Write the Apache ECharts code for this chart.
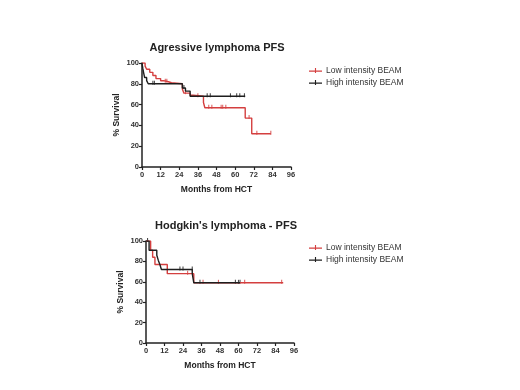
<!DOCTYPE html>
<html>
<head>
<meta charset="utf-8">
<script src="https://cdn.jsdelivr.net/npm/echarts@6/dist/echarts.min.js"></script>
<style>
  html, body { margin: 0; padding: 0; background: #fff; }
  #main { width: 520px; height: 390px; }
</style>
</head>
<body>
<div id="main"></div>
<script>
// 曲线数据 [月份, 生存率]
var aggLow = [[0,100],[2,97],[3,94],[5,91],[7,88],[9,85],[12,83],[14,82],[17,81],[19,80],[26,75],[27,71],[31,69],[33,68],[39.6,62],[40.5,57],[66.5,47],[70.7,32],[83,32]];
var aggHigh = [[0,100],[0.5,95],[1,91],[1.7,86],[3,83],[4,80],[26,76],[28,73],[31,68],[66.5,68]];
var aggLowCens = [[15,82],[16,82],[28,71],[36,68],[43,57],[45,57],[51,57],[52,57],[54,57],[69,47],[74,32],[83,32]];
var aggHighCens = [[7,80],[8,80],[27,76],[42,68],[44,68],[57,68],[61,68],[63,68],[66,68]];

var hodLow = [[0,100],[3,91],[4.3,84],[5.8,77],[13.8,68],[31,59],[89,59]];
var hodHigh = [[0,100],[2,91],[7,86],[8,81],[9,77],[10,72],[30,68],[31,59],[61,59]];
var hodLowCens = [[27,68],[37,59],[47,59],[64,59],[88,59]];
var hodHighCens = [[1,100],[22,72],[24,72],[30,72],[35,59],[58,59],[60,59],[61,59]];

var titles = ['Agressive lymphoma PFS', "Hodgkin's lymphoma - PFS"];
var names = ['Low intensity BEAM', 'High intensity BEAM'];
var RED = '#d43f3f', BLACK = '#1e1e1e';
var FONT = '"Liberation Sans", Arial, sans-serif';

var chart = echarts.init(document.getElementById('main'));

function xAxis(i) {
    return {
        gridIndex: i, type: 'value', min: 0, max: 96, interval: 12,
        name: 'Months from HCT', nameLocation: 'middle', nameGap: 18,
        nameTextStyle: { fontFamily: FONT, fontSize: 8.5, fontWeight: 'bold', color: '#222' },
        axisLine: { lineStyle: { color: '#222', width: 1.5 } },
        axisTick: { show: true, length: 3, lineStyle: { color: '#222', width: 1.2 } },
        axisLabel: { fontFamily: FONT, fontSize: 7.5, fontWeight: 'bold', color: '#333', margin: 4 },
        splitLine: { show: false }
    };
}
function yAxis(i) {
    return {
        gridIndex: i, type: 'value', min: 0, max: 100, interval: 20,
        name: '% Survival', nameLocation: 'middle', nameGap: 21,
        nameTextStyle: { fontFamily: FONT, fontSize: 8.5, fontWeight: 'bold', color: '#222' },
        axisLine: { show: true, lineStyle: { color: '#222', width: 1.5 } },
        axisTick: { show: true, length: 3, lineStyle: { color: '#222', width: 1.2 } },
        axisLabel: { fontFamily: FONT, fontSize: 7.5, fontWeight: 'bold', color: '#333', margin: 3 },
        splitLine: { show: false }
    };
}
function stepLine(name, data, color, i) {
    return {
        name: name, type: 'line', step: 'end', data: data,
        xAxisIndex: i, yAxisIndex: i, symbol: 'none',
        lineStyle: { color: color, width: 1.4 }, itemStyle: { color: color },
        animation: false
    };
}
function censor(data, color, i) {
    return {
        type: 'scatter', data: data, xAxisIndex: i, yAxisIndex: i,
        symbol: 'rect', symbolSize: [1.1, 4], symbolOffset: [0, -1],
        itemStyle: { color: color }, animation: false, silent: true
    };
}
var legendIcon = 'path://M0,4.3h14v1.4H0z M6.4,1.5h1.2v5.5H6.4z';
function legend(top) {
    return {
        data: names, left: 304, top: top, orient: 'vertical',
        itemWidth: 13, itemHeight: 7, itemGap: 3, icon: legendIcon,
        textStyle: { fontFamily: FONT, fontSize: 8.5, color: '#333', padding: [0, 0, 0, -1] }
    };
}

var option = {
    backgroundColor: '#fff',
    color: [RED, BLACK],
    title: [
        { text: titles[0], left: 212, top: 37, textAlign: 'center',
          textStyle: { fontFamily: FONT, fontSize: 11, fontWeight: 'bold', color: '#222' } },
        { text: titles[1], left: 221, top: 215, textAlign: 'center',
          textStyle: { fontFamily: FONT, fontSize: 11, fontWeight: 'bold', color: '#222' } }
    ],
    legend: [legend(61), legend(238)],
    grid: [
        { left: 142, top: 63, width: 149, height: 104 },
        { left: 146, top: 241, width: 148, height: 102 }
    ],
    xAxis: [xAxis(0), xAxis(1)],
    yAxis: [yAxis(0), yAxis(1)],
    series: [
        stepLine(names[0], aggLow, RED, 0),
        stepLine(names[1], aggHigh, BLACK, 0),
        censor(aggLowCens, RED, 0),
        censor(aggHighCens, BLACK, 0),
        stepLine(names[0], hodLow, RED, 1),
        stepLine(names[1], hodHigh, BLACK, 1),
        censor(hodLowCens, RED, 1),
        censor(hodHighCens, BLACK, 1)
    ]
};
chart.setOption(option);
</script>
</body>
</html>
